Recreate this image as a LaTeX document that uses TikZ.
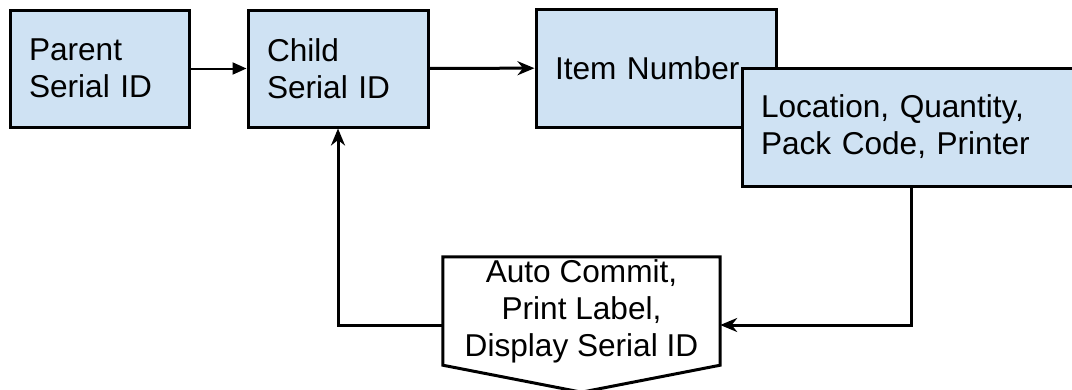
\documentclass[tikz,border=0pt]{standalone}
\usepackage{fontspec}
\setmainfont{Liberation Sans}
\usetikzlibrary{calc,arrows.meta,backgrounds}
\definecolor{boxblue}{HTML}{CFE2F3}

\begin{document}
\begin{tikzpicture}[x=1pt,y=-1pt,
  box/.style={draw,line width=3pt,fill=boxblue,align=left,inner xsep=19pt,inner ysep=0pt,
    font=\fontsize{31.6}{37}\selectfont},
  flow/.style={-{Stealth[length=17pt,width=14pt]},line width=3pt},
  thinflow/.style={-{Triangle[length=14pt,width=12pt]},line width=2pt}]
  \useasboundingbox (0,0) rectangle (1072,389);
  % top row
  \node[box,text width=141pt,minimum height=117pt] (parent) at (99.5,68.5) {Parent\\Serial ID};
  \node[box,text width=142pt,minimum height=117pt] (child) at (338,68.5) {Child\\Serial ID};
  \node[box,text width=202pt,minimum height=118pt] (item) at (656,68) {Item Number};
  \node[box,text width=300pt,minimum height=118pt] (loc) at (911,127) {Location, Quantity,\\Pack Code, Printer};
  % off-page shape at the bottom
  \node[align=center,inner sep=0pt,minimum width=277pt,minimum height=108pt,
    font=\fontsize{31.6}{37}\selectfont] (commit) at (581.5,311) {Auto Commit,\\Print Label,\\Display Serial ID};
  \begin{scope}[on background layer]
    \draw[line width=3pt,fill=white] (commit.north west) -- (commit.north east) -- (commit.south east)
      -- ($(commit.south)+(0,27)$) -- (commit.south west) -- cycle;
  \end{scope}
  \coordinate (commitR) at ($(commit.east)+(0,14)$);
  \coordinate (commitL) at ($(commit.west)+(0,14)$);
  % connectors
  \draw[thinflow] (parent) -- (child);
  \draw[flow] (child) -- (item);
  \draw[flow] (loc.south) |- (commitR);
  \draw[flow] (commitL) -| (child.south);
\end{tikzpicture}
\end{document}
